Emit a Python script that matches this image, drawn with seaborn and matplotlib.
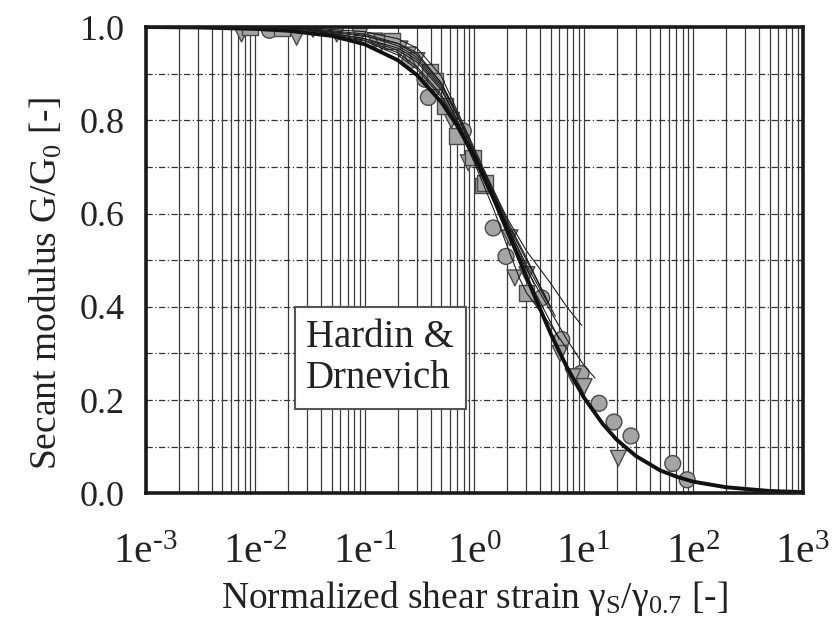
import numpy as np
import pandas as pd
import matplotlib
matplotlib.use('Agg')
import matplotlib.pyplot as plt
import seaborn as sns
from matplotlib.ticker import LogLocator, FixedLocator, MultipleLocator, NullFormatter

# Hardin & Drnevich reference curve
hd_x = [0.001, 0.003, 0.01, 0.02, 0.05, 0.1, 0.2, 0.3, 0.5, 0.7, 1, 1.5, 2, 3, 5, 7,
        10, 15, 20, 30, 50, 70, 100, 200, 500, 1000]
hd_y = [1.0, 0.999, 0.996, 0.992, 0.981, 0.963, 0.929, 0.897, 0.839, 0.788, 0.722, 0.634,
        0.565, 0.464, 0.342, 0.271, 0.206, 0.148, 0.115, 0.080, 0.049, 0.036, 0.025,
        0.013, 0.005, 0.0026]

# thin fitted curves of the individual tests
thin_lines = [
    ([0.005, 0.01, 0.03, 0.1, 0.2, 0.3, 0.5, 0.7, 1, 1.5, 2, 3, 5, 7, 9.6],
     [1.0, 1.0, 0.995, 0.98, 0.965, 0.945, 0.88, 0.81, 0.73, 0.65, 0.59, 0.52, 0.45, 0.40, 0.36]),
    ([0.005, 0.01, 0.03, 0.1, 0.2, 0.3, 0.5, 0.7, 1, 1.5, 2, 3, 5, 7, 10, 12.7],
     [1.0, 1.0, 0.995, 0.975, 0.955, 0.93, 0.87, 0.80, 0.72, 0.63, 0.565, 0.48, 0.39, 0.33, 0.275, 0.247]),
    ([0.005, 0.01, 0.03, 0.1, 0.2, 0.3, 0.5, 0.7, 1, 1.5, 2, 2.6, 3, 5, 7],
     [1.0, 0.998, 0.99, 0.97, 0.94, 0.91, 0.85, 0.79, 0.71, 0.61, 0.53, 0.46, 0.43, 0.36, 0.31]),
    ([0.005, 0.01, 0.03, 0.1, 0.2, 0.3, 0.5, 0.7, 1, 1.5, 2, 3, 5],
     [1.0, 1.0, 0.997, 0.985, 0.965, 0.94, 0.88, 0.815, 0.735, 0.645, 0.58, 0.5, 0.40]),
    ([0.005, 0.01, 0.03, 0.1, 0.2, 0.3, 0.5, 0.7, 1, 1.5, 2, 3, 5.5],
     [1.0, 0.999, 0.994, 0.975, 0.95, 0.925, 0.865, 0.80, 0.725, 0.64, 0.575, 0.49, 0.38]),
    ([0.005, 0.01, 0.03, 0.1, 0.2, 0.3, 0.5, 0.7, 1, 1.5, 2, 3, 4.5],
     [1.0, 1.0, 0.998, 0.99, 0.975, 0.955, 0.895, 0.82, 0.74, 0.65, 0.585, 0.505, 0.42]),
    ([0.005, 0.01, 0.03, 0.1, 0.2, 0.3, 0.5, 0.7, 1, 1.5, 2, 3, 4, 6],
     [1.0, 0.999, 0.993, 0.972, 0.945, 0.915, 0.855, 0.795, 0.715, 0.625, 0.555, 0.465, 0.41, 0.33]),
    ([0.005, 0.01, 0.03, 0.1, 0.2, 0.3, 0.5, 0.7, 1, 1.5, 2, 3.5],
     [1.0, 1.0, 0.996, 0.982, 0.96, 0.935, 0.875, 0.81, 0.73, 0.64, 0.575, 0.45]),
]

# measured points
circle_x = [0.0135, 0.259, 0.355, 0.381, 0.795, 1.49, 1.95, 4.13, 6.3, 9.45, 13.8, 18.9, 27, 65, 88]
circle_y = [0.993, 0.928, 0.888, 0.849, 0.777, 0.569, 0.508, 0.419, 0.33, 0.257, 0.193, 0.153, 0.123, 0.064, 0.029]

tri_x = [0.0075, 0.0239, 0.0337, 0.0555, 0.09, 0.124, 0.143, 0.21, 0.25, 0.3, 0.454, 0.62,
         0.883, 2.12, 2.35, 3.03, 6.08, 8.0, 10.1, 20.7]
tri_y = [0.985, 0.978, 0.995, 0.985, 0.981, 0.97, 0.967, 0.953, 0.94, 0.928, 0.867, 0.80,
         0.709, 0.548, 0.462, 0.469, 0.30, 0.25, 0.229, 0.075]

square_x = [0.009, 0.0175, 0.176, 0.395, 0.44, 0.54, 0.69, 0.98, 1.2, 1.26, 3.0]
square_y = [1.0, 0.998, 0.97, 0.903, 0.885, 0.83, 0.766, 0.72, 0.66, 0.666, 0.43]

x_exponents = [-3, -2, -1, 0, 1, 2, 3]
y_ticks = [0.0, 0.2, 0.4, 0.6, 0.8, 1.0]

sns.set_style('white')
plt.rcParams['font.family'] = ['Liberation Serif', 'DejaVu Serif']
plt.rcParams['mathtext.fontset'] = 'custom'
plt.rcParams['mathtext.rm'] = 'Liberation Serif'
plt.rcParams['mathtext.it'] = 'Liberation Serif:italic'
plt.rcParams['mathtext.bf'] = 'Liberation Serif:bold'

fig, ax = plt.subplots(figsize=(8.36, 6.21), dpi=100)
fig.subplots_adjust(left=0.1743, right=0.9602, top=0.9565, bottom=0.2056)

pts = pd.DataFrame({
    'x': circle_x + tri_x + square_x,
    'y': circle_y + tri_y + square_y,
    'kind': ['circle'] * len(circle_x) + ['tri'] * len(tri_x) + ['square'] * len(square_x),
})
sns.scatterplot(data=pts, x='x', y='y', style='kind',
                markers={'circle': 'o', 'tri': 'v', 'square': 's'},
                color='#a4a4a4', edgecolor='#4a4a4a', linewidth=1.0, s=130,
                legend=False, ax=ax, zorder=3)

for tx, ty in thin_lines:
    sns.lineplot(x=tx, y=ty, color='#1e1e1e', lw=0.8, ax=ax, zorder=3.5)

sns.lineplot(x=hd_x, y=hd_y, color='#111111', lw=2.8, ax=ax, zorder=4)

ax.set_xscale('log')
ax.set_xlim(1e-3, 1e3)
ax.set_ylim(0, 1.0)

ax.xaxis.set_major_locator(FixedLocator([10.0 ** k for k in x_exponents]))
ax.xaxis.set_minor_locator(LogLocator(base=10, subs=np.arange(2, 10), numticks=20))
ax.xaxis.set_minor_formatter(NullFormatter())
ax.set_xticklabels(['1e$^{\\text{%d}}$' % k for k in x_exponents])
ax.yaxis.set_major_locator(FixedLocator(y_ticks))
ax.yaxis.set_minor_locator(MultipleLocator(0.1))
ax.set_yticklabels(['%.1f' % v for v in y_ticks])

ax.grid(axis='x', which='both', color='#3a3a3a', lw=0.9)
ax.grid(axis='y', which='both', color='#333333', lw=0.9, ls=(0, (5, 2, 1, 2)))

ax.tick_params(axis='both', which='both', length=0, colors='#222222')
ax.tick_params(axis='x', pad=29, labelsize=30)
ax.tick_params(axis='y', pad=15, labelsize=26)

for sp in ax.spines.values():
    sp.set_linewidth(2.6)
    sp.set_color('#1a1a1a')
    sp.set_zorder(6)

ax.set_xlabel('Normalized shear strain γ$_\\mathrm{S}$/γ$_{0.7}$ [-]', fontsize=27,
              color='#222222', labelpad=5)
ax.set_ylabel('Secant modulus G/G$_0$ [-]', fontsize=27, color='#222222')
ax.yaxis.set_label_coords(-0.123, 0.45)

ax.text(0.357, 0.29, 'Hardin &\nDrnevich', transform=ax.transAxes, ha='center', va='center',
        multialignment='left', fontsize=28, color='#222222', zorder=5, linespacing=1.15,
        bbox=dict(boxstyle='square,pad=0.3', fc='white', ec='#555555', lw=1.5))

plt.savefig('out.png', dpi=100)
